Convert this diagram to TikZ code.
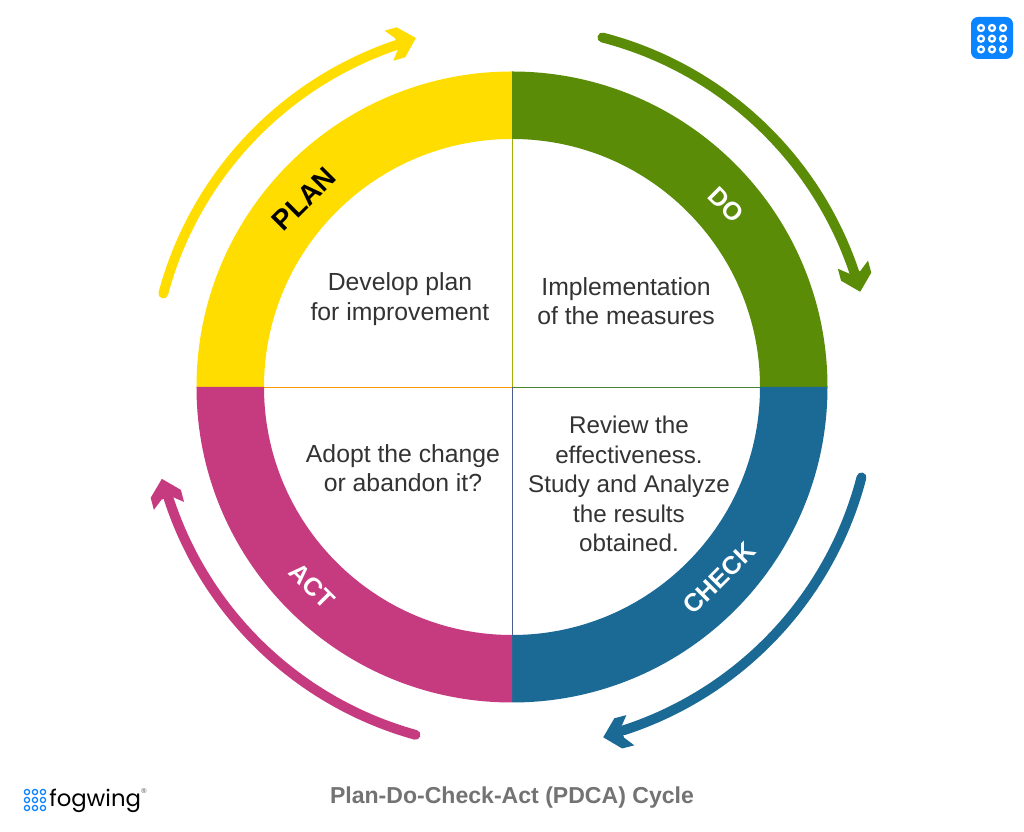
\documentclass[tikz,border=0pt]{standalone}
\usepackage{fontspec}
\setmainfont{Liberation Sans}
\newfontfamily\logofont{Poppins}
\usepackage{xcolor}
\definecolor{planyellow}{HTML}{FFDD00}
\definecolor{dogreen}{HTML}{5B8C08}
\definecolor{checkblue}{HTML}{1B6A96}
\definecolor{actpink}{HTML}{C63B80}
\definecolor{iconblue}{HTML}{0A84FF}
\definecolor{bodygray}{HTML}{333333}
\tikzset{
  cycle arrow/.style={line width=7pt, line cap=round},
  tip head/.pic={\fill (0,0) -- (-15.5,15.6) -- (-28,15.6) -- (-20,5.5) -- (-20,-5.5) -- (-28,-15.6) -- (-15.5,-15.6) -- cycle;},
  ring label/.style={font=\fontsize{18}{22}\selectfont\bfseries},
  body text/.style={font=\fontsize{17.6}{21}\selectfont, text=bodygray, align=center},
  divider/.style={line width=0.7pt}
}
\begin{document}
\begin{tikzpicture}[x=0.025cm, y=0.025cm]
  \useasboundingbox (-512,-445) rectangle (512,387);
  \fill[white] (-512,-445) rectangle (512,387);
  % ring quarters
  \fill[planyellow] (180:315.5) arc [start angle=180, end angle=90, radius=315.5] -- (90:248) arc [start angle=90, end angle=180, radius=248] -- cycle;
  \fill[dogreen] (90:315.5) arc [start angle=90, end angle=0, radius=315.5] -- (0:248) arc [start angle=0, end angle=90, radius=248] -- cycle;
  \fill[checkblue] (0:315.5) arc [start angle=0, end angle=-90, radius=315.5] -- (-90:248) arc [start angle=-90, end angle=0, radius=248] -- cycle;
  \fill[actpink] (-90:315.5) arc [start angle=-90, end angle=-180, radius=315.5] -- (-180:248) arc [start angle=-180, end angle=-90, radius=248] -- cycle;
  % dividers
  \draw[divider, dogreen!55!planyellow] (0,0) -- (90:248);
  \draw[divider, orange!75!planyellow] (0,0) -- (180:248);
  \draw[divider, dogreen!70!checkblue] (0,0) -- (0:248);
  \draw[divider, checkblue!70!actpink] (0,0) -- (-90:248);
  % outer arrows
  \draw[cycle arrow, planyellow] (165:361) arc [start angle=165, end angle=108.5, radius=361];
  \pic[planyellow, rotate=16] at (105.4:362) {tip head};
  \draw[cycle arrow, dogreen] (75.5:361) arc [start angle=75.5, end angle=18.5, radius=361];
  \pic[dogreen, rotate=-75] at (15.3:361) {tip head};
  \draw[cycle arrow, checkblue] (-14.5:361) arc [start angle=-14.5, end angle=-72, radius=361];
  \pic[checkblue, rotate=-165.4] at (-75.4:362) {tip head};
  \draw[cycle arrow, actpink] (-105.5:361) arc [start angle=-105.5, end angle=-162, radius=361];
  \pic[actpink, rotate=104.7] at (-165.3:362) {tip head};
  % ring labels
  \node[ring label, font=\fontsize{20}{24}\selectfont\bfseries, text=black, rotate=45] (plan) at (-208,188) {PLAN};
  \node[ring label, text=white, rotate=-45] (do) at (214,182) {DO};
  \node[ring label, text=white, rotate=45] (check) at (207,-191) {CHECK};
  \node[ring label, text=white, rotate=-45] (act) at (-200,-199) {ACT};
  % quarter texts
  \node[body text] (plantext) at (-112,88) {Develop plan\\for improvement};
  \node[body text] (dotext) at (114,86) {Implementation\\of the measures};
  \node[body text, font=\fontsize{17.2}{21}\selectfont] (checktext) at (117,-97) {Review the\\effectiveness.\\Study and Analyze\\the results\\obtained.};
  \node[body text] (acttext) at (-109,-81) {Adopt the change\\or abandon it?};
  % caption
  \node[font=\fontsize{16.4}{20}\selectfont\bfseries, text=black!55] (caption) at (0,-411) {Plan-Do-Check-Act (PDCA) Cycle};
  % icon top right
  \fill[iconblue, rounded corners=5pt] (459,370) rectangle (501,328);
  \foreach \i in {0,1,2}
    \foreach \j in {0,1,2}
      \draw[white, line width=1.6pt] (469+\i*11,359-\j*10.7) circle [radius=3];
  % logo
  \foreach \i in {0,1,2}
    \foreach \j in {0,1,2}
      \draw[iconblue, line width=0.9pt] (-485+\i*8,-405-\j*8) circle [radius=2.6];
  \node[font=\logofont\fontsize{16.2}{20}\selectfont, anchor=base west, inner sep=0pt] (logo) at (-463,-419) {fogwing};
  \node[font=\fontsize{5}{6}\selectfont, text=black!70, inner sep=0pt] (reg) at (-368,-404) {®};
\end{tikzpicture}
\end{document}
